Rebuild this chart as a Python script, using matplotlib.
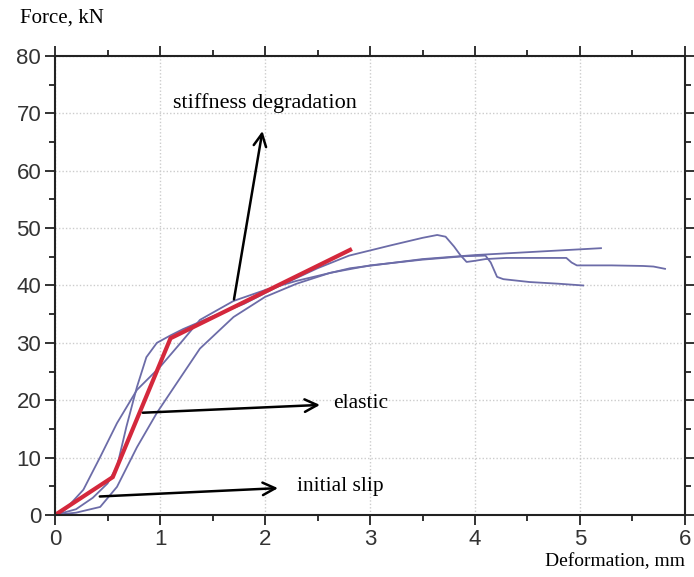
import numpy as np
import matplotlib.pyplot as plt

# Deformation (mm) vs force (kN)
# curve with peak near 3.6 mm
defo_a = [0, 0.2, 0.36, 0.5, 0.59, 0.68, 0.78, 0.87, 0.97, 1.1, 1.22, 1.5, 1.8, 2.1,
          2.5, 2.8, 3.2, 3.5, 3.64, 3.72, 3.8, 3.86, 3.92, 4.0, 4.1, 4.3, 4.6, 4.87,
          4.92, 4.97, 5.3, 5.6, 5.7, 5.81]
force_a = [0, 1.0, 3.0, 5.5, 8.4, 15.4, 22.3, 27.5, 30.0, 31.3, 32.4, 34.6, 36.8, 39.6,
           43.0, 45.2, 47.0, 48.3, 48.8, 48.5, 46.8, 45.3, 44.1, 44.3, 44.6, 44.8, 44.8, 44.8,
           44.0, 43.5, 43.5, 43.4, 43.3, 42.9]
# curve ending highest, near 5.2 mm
defo_b = [0, 0.1, 0.27, 0.43, 0.59, 0.78, 1.0, 1.22, 1.38, 1.7, 2.0, 2.3, 2.81,
          3.5, 4.0, 4.5, 5.0, 5.2]
force_b = [0, 1.0, 4.4, 10.1, 16.0, 21.8, 25.8, 30.5, 34.0, 37.3, 39.2, 40.8, 43.0,
           44.6, 45.3, 45.8, 46.3, 46.5]
# curve ending lowest, near 5.0 mm
defo_c = [0, 0.2, 0.43, 0.59, 0.78, 0.97, 1.16, 1.38, 1.7, 2.0, 2.3, 2.62, 3.0,
          3.5, 3.9, 4.1, 4.15, 4.21, 4.27, 4.52, 4.8, 5.03]
force_c = [0, 0.4, 1.4, 4.9, 11.8, 17.8, 23.0, 29.0, 34.5, 38.0, 40.3, 42.2, 43.5,
           44.5, 45.1, 45.2, 44.0, 41.5, 41.1, 40.6, 40.3, 40.0]
# idealised trilinear model
defo_model = [0, 0.55, 1.1, 2.81]
force_model = [0, 6.6, 30.8, 46.2]

fig = plt.figure(figsize=(6.94, 5.77), dpi=100)
ax = fig.add_axes([0.0793, 0.1075, 0.9077, 0.7955])

blue = '#6c6ca8'
for xs, ys in [(defo_a, force_a), (defo_b, force_b), (defo_c, force_c)]:
    ax.plot(xs, ys, color=blue, lw=1.3)
ax.plot(defo_model, force_model, color='#d4283c', lw=3, solid_joinstyle='miter')

ax.set_xlim(0, 6)
ax.set_ylim(0, 80)
ax.set_xticks(range(0, 7))
ax.set_yticks(range(0, 81, 10))
ax.set_xticks(np.arange(0.5, 6, 1), minor=True)
ax.set_yticks(np.arange(5, 80, 10), minor=True)
ax.tick_params(which='both', direction='out', top=True, right=True,
               labeltop=False, labelright=False, width=1.3, color='#222222')
ax.tick_params(which='major', length=7, labelsize=16, pad=3)
ax.tick_params(which='minor', length=4)
for lab in ax.get_xticklabels() + ax.get_yticklabels():
    lab.set_family('Liberation Sans')
    lab.set_color('#333333')
for sp in ax.spines.values():
    sp.set_linewidth(1.5)
    sp.set_color('#222222')
ax.grid(True, which='major', linestyle=(0, (1, 1.5)), color='#cccccc', lw=1)

serif = 'Liberation Serif'
fig.text(0.029, 0.968, 'Force, kN', family=serif, fontsize=15, va='center')
fig.text(0.987, 0.012, 'Deformation, mm', family=serif, fontsize=14, ha='right', va='bottom')

arrow = dict(arrowstyle='->,head_length=0.9,head_width=0.45', color='black', lw=1.8)
ax.annotate('', xy=(1.98, 67.4), xytext=(1.70, 37.1), arrowprops=arrow)
ax.annotate('', xy=(2.55, 19.2), xytext=(0.81, 17.8), arrowprops=arrow)
ax.annotate('', xy=(2.15, 4.7), xytext=(0.40, 3.2), arrowprops=arrow)

ax.text(2.0, 71.8, 'stiffness degradation', family=serif, fontsize=16, ha='center', va='center')
ax.text(2.65, 19.5, 'elastic', family=serif, fontsize=15.5, va='center')
ax.text(2.3, 5.0, 'initial slip', family=serif, fontsize=15.5, va='center')

fig.savefig('out.png', dpi=100)
